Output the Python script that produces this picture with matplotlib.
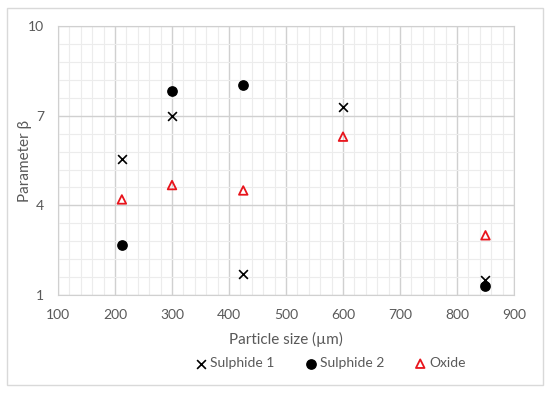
import matplotlib
matplotlib.use("Agg")
import matplotlib.pyplot as plt
import numpy as np
from matplotlib.patches import Rectangle

plt.rcParams["font.family"] = ["Lato", "DejaVu Sans"]

# Datos
tamano = [212, 300, 425, 600, 850]
sulfuro1 = [5.55, 7.0, 1.7, 7.3, 1.5]
tamano_s2 = [212, 300, 425, 850]
sulfuro2 = [2.68, 7.83, 8.03, 1.3]
oxido = [4.2, 4.68, 4.5, 6.3, 3.0]

GRIS_TXT = "#595959"

fig = plt.figure(figsize=(5.5, 3.95), dpi=100)
ax = fig.add_axes([0.1055, 0.253, 0.829, 0.681])

# Marco exterior
fig.patches.append(Rectangle((0.013, 0.025), 0.974, 0.955, transform=fig.transFigure,
                             fill=False, edgecolor="#d9d9d9", linewidth=1.0))

ax.scatter(tamano, sulfuro1, marker="x", s=40, color="black", linewidths=1.2,
           label="Sulphide 1", zorder=3)
ax.scatter(tamano_s2, sulfuro2, marker="o", s=45, color="black",
           label="Sulphide 2", zorder=3)
ax.scatter(tamano, oxido, marker="^", s=38, facecolors="none", edgecolors="#e8141c",
           linewidths=1.3, label="Oxide", zorder=3)

ax.set_xlim(100, 900)
ax.set_ylim(1, 10)
ax.set_xticks(np.arange(100, 901, 100))
ax.set_xticks(np.arange(100, 901, 20), minor=True)
ax.set_yticks([1, 4, 7, 10])
ax.set_yticks(np.arange(1, 10.01, 0.6), minor=True)
ax.grid(which="major", color="#d0d0d0", linewidth=1.0)
ax.grid(which="minor", color="#ececec", linewidth=0.8)
ax.set_axisbelow(True)
for lado in ax.spines.values():
    lado.set_color("#d0d0d0")
ax.tick_params(which="both", length=0, colors=GRIS_TXT, labelsize=10)
ax.tick_params(axis="x", pad=10)
ax.tick_params(axis="y", pad=10)

ax.set_xlabel("Particle size (µm)", color=GRIS_TXT, fontsize=11, labelpad=8)
ax.set_ylabel("Parameter β", color=GRIS_TXT, fontsize=11)
ax.yaxis.set_label_coords(-0.056, 0.5)

ax.legend(loc="upper center", bbox_to_anchor=(0.595, -0.185), ncol=3, frameon=False,
          fontsize=10, labelcolor=GRIS_TXT, handletextpad=0.05, columnspacing=2.0,
          handlelength=1.2)

fig.savefig("out.png", dpi=100)
